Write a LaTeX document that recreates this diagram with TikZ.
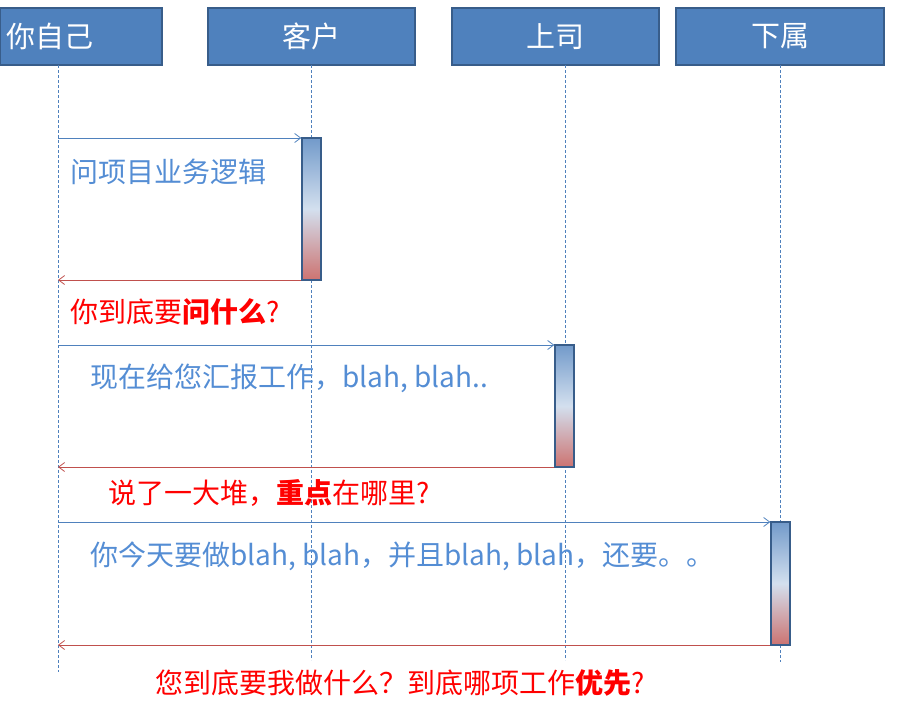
\documentclass[tikz,border=0pt]{standalone}
\usepackage{fontspec}
\setmainfont{Noto Sans CJK SC}
\usetikzlibrary{arrows.meta}
\definecolor{hdr}{RGB}{79,129,189}
\definecolor{hdrd}{RGB}{56,93,138}
\definecolor{txtb}{RGB}{84,141,212}
\definecolor{arb}{RGB}{79,129,189}
\definecolor{arr}{RGB}{192,80,77}
\begin{document}
\begin{tikzpicture}[x=1pt,y=-1pt,
  hbox/.style={draw=hdrd,line width=1.5pt,fill=hdr,text=white,minimum height=57pt,inner sep=0pt,font=\fontsize{29}{33}\selectfont},
  life/.style={dashed,draw=hdr,line width=0.6pt,dash pattern=on 3pt off 2pt},
  actbar/.style={draw=hdrd,line width=1.5pt,top color=hdr!80,bottom color=arr!80,middle color=hdr!25},
  msg/.style={draw=arb,line width=0.8pt,-{Straight Barb[length=6pt,width=9pt]}},
  ret/.style={draw=arr,line width=0.8pt,-{Straight Barb[length=6pt,width=9pt]}},
  bt/.style={anchor=west,text=txtb,font=\fontsize{28}{32}\selectfont,inner sep=0pt},
  rt/.style={anchor=west,text=red,font=\fontsize{28}{32}\selectfont,inner sep=0pt}]
\useasboundingbox (0,0) rectangle (899,709);
\node[hbox,minimum width=162pt,text width=150pt,align=left] (h1) at (81,36.5) {你自己};
\node[hbox,minimum width=207pt] (h2) at (311.5,36.5) {客户};
\node[hbox,minimum width=207pt] (h3) at (555.5,36.5) {上司};
\node[hbox,minimum width=208pt] (h4) at (780,36.5) {下属};
\coordinate (e1) at (58,672); \coordinate (e2) at (311,660);
\coordinate (e3) at (565,660); \coordinate (e4) at (780,662);
\draw[life] (58,65) -- (e1);
\draw[life] (311,65) -- (e2);
\draw[life] (565,65) -- (e3);
\draw[life] (780,65) -- (e4);
\node[actbar,minimum width=19pt,minimum height=142pt,inner sep=0pt] (a1) at (311.5,209) {};
\node[actbar,minimum width=19pt,minimum height=122pt,inner sep=0pt] (a2) at (564.5,406) {};
\node[actbar,minimum width=19pt,minimum height=123pt,inner sep=0pt] (a3) at (780.5,583.5) {};
\coordinate (s1) at (58,138); \coordinate (r1) at (58,280);
\coordinate (s2) at (58,345); \coordinate (r2) at (58,467);
\coordinate (s3) at (58,522); \coordinate (r3) at (58,645);
\draw[msg] (s1) -- (s1 -| a1.west);
\draw[ret] (r1 -| a1.west) -- (r1);
\draw[msg] (s2) -- (s2 -| a2.west);
\draw[ret] (r2 -| a2.west) -- (r2);
\draw[msg] (s3) -- (s3 -| a3.west);
\draw[ret] (r3 -| a3.west) -- (r3);
\node[bt] (t1) at (70,172) {问项目业务逻辑};
\node[rt] (t2) at (70,312) {你到底要\textbf{问什么}?};
\node[bt] (t3) at (90,378) {现在给您汇报工作，blah, blah..};
\node[rt] (t4) at (108,493) {说了一大堆，\textbf{重点}在哪里?};
\node[bt] (t5) at (90,556) {你今天要做blah, blah，并且blah, blah，还要。。};
\node[rt] (t6) at (155,683) {您到底要我做什么？到底哪项工作\textbf{优先}?};
\end{tikzpicture}
\end{document}
